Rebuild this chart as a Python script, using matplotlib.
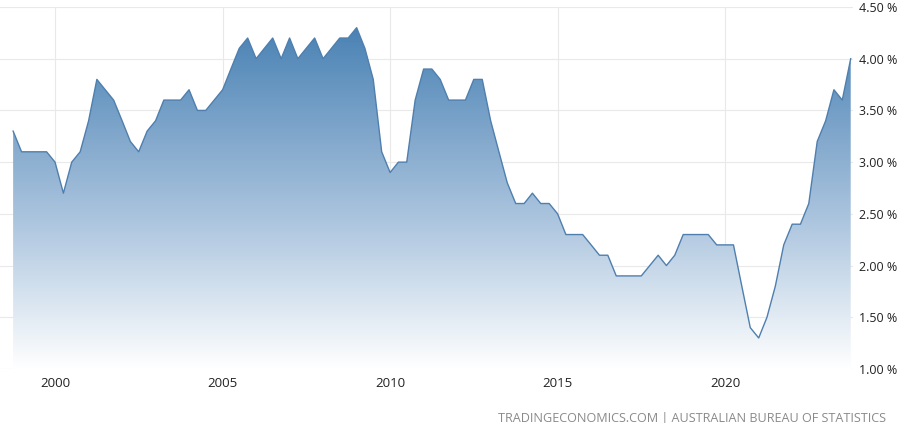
import numpy as np
import pandas as pd
import matplotlib
matplotlib.use("Agg")
import matplotlib.pyplot as plt
import matplotlib.dates as mdates
from matplotlib.colors import LinearSegmentedColormap
from matplotlib.patches import Polygon

plt.rcParams['font.family'] = ['Open Sans', 'DejaVu Sans']

# wage growth, % y/y, quarterly 1998 Q3 .. 2023 Q3
quarters = pd.period_range('1998Q3', '2023Q3', freq='Q')
wages = [
    3.3, 3.1,
    3.1, 3.1, 3.1, 3.0,
    2.7, 3.0, 3.1, 3.4,
    3.8, 3.7, 3.6, 3.4,
    3.2, 3.1, 3.3, 3.4,
    3.6, 3.6, 3.6, 3.7,
    3.5, 3.5, 3.6, 3.7,
    3.9, 4.1, 4.2, 4.0,
    4.1, 4.2, 4.0, 4.2,
    4.0, 4.1, 4.2, 4.0,
    4.1, 4.2, 4.2, 4.3,
    4.1, 3.8, 3.1, 2.9,
    3.0, 3.0, 3.6, 3.9,
    3.9, 3.8, 3.6, 3.6,
    3.6, 3.8, 3.8, 3.4,
    3.1, 2.8, 2.6, 2.6,
    2.7, 2.6, 2.6, 2.5,
    2.3, 2.3, 2.3, 2.2,
    2.1, 2.1, 1.9, 1.9,
    1.9, 1.9, 2.0, 2.1,
    2.0, 2.1, 2.3, 2.3,
    2.3, 2.3, 2.2, 2.2,
    2.2, 1.8, 1.4, 1.3,
    1.5, 1.8, 2.2, 2.4,
    2.4, 2.6, 3.2, 3.4,
    3.7, 3.6, 4.0,
]
y_ticks = [1.0, 1.5, 2.0, 2.5, 3.0, 3.5, 4.0, 4.5]
x_ticks = [2000, 2005, 2010, 2015, 2020]
source = "TRADINGECONOMICS.COM | AUSTRALIAN BUREAU OF STATISTICS"

dates = quarters.to_timestamp(how='end').normalize()
x = mdates.date2num(dates)
y = np.array(wages)

fig = plt.figure(figsize=(9, 4.23), dpi=100)
ax = fig.add_axes([0.0, 1 - 369 / 423, 853 / 900, (369 - 7) / 423])

ymin, ymax = 1.0, 4.5
ax.set_ylim(ymin, ymax)
ax.set_xlim(mdates.date2num(pd.Timestamp('1998-05-10')),
            mdates.date2num(pd.Timestamp('2023-10-25')))

# gradient fill under the line
cmap = LinearSegmentedColormap.from_list(
    'te', [(0.0, '#ffffff'), (0.45, '#a9c3dd'), (1.0, '#4a82b4')])
top = y.max()
grad = np.linspace(0, 1, 256).reshape(-1, 1)
img = ax.imshow(grad, cmap=cmap, aspect='auto', origin='lower',
                extent=[x[0], x[-1], ymin, top], zorder=2)
verts = np.vstack([[x[0], ymin], np.column_stack([x, y]), [x[-1], ymin]])
clip = Polygon(verts, closed=True, facecolor='none', edgecolor='none')
ax.add_patch(clip)
img.set_clip_path(clip)

ax.plot(x, y, color='#4f7fae', lw=1.0, zorder=3)

ax.set_yticks(y_ticks)
ax.set_yticklabels([f"{v:.2f} %" for v in y_ticks])
ax.set_xticks([mdates.date2num(pd.Timestamp(f'{yr}-01-01')) for yr in x_ticks])
ax.set_xticklabels([str(yr) for yr in x_ticks])

ax.yaxis.tick_right()
ax.tick_params(axis='both', length=0, colors='#222222')
ax.tick_params(axis='y', labelsize=9, pad=4)
ax.tick_params(axis='x', labelsize=9.5, pad=6)
ax.grid(True, color='#e9e9e9', lw=0.8, zorder=0)
ax.set_axisbelow(True)
for s in ax.spines.values():
    s.set_visible(False)

fig.text(886 / 900, 1 - 418 / 423, source, ha='right', va='center',
         fontsize=9.1, color='#8a8a8a')

fig.savefig('out.png', dpi=100)
